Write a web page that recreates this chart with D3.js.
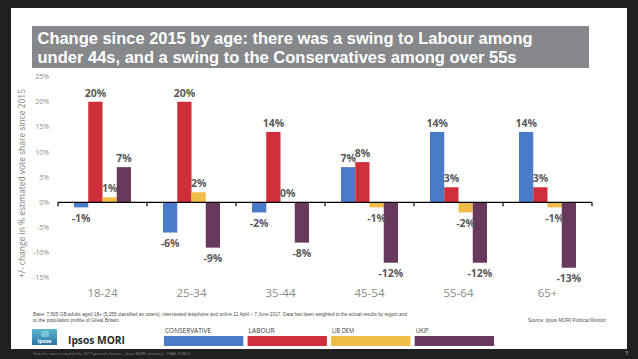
<!DOCTYPE html>
<html><head><meta charset="utf-8">
<script src="https://cdn.jsdelivr.net/npm/d3@7"></script>
<style>html,body{margin:0;padding:0;background:#202020;}svg{display:block;}</style>
</head><body>
<svg id="c" width="638" height="359"></svg>
<script>
const categories = ["18-24","25-34","35-44","45-54","55-64","65+"];
const series = ["CONSERVATIVE","LABOUR","LIB DEM","UKIP"];
const conservative = [-1,-6,-2,7,14,14];
const labour = [20,20,14,8,3,3];
const libdem = [1,2,0,-1,-2,-1];
const ukip = [7,-9,-8,-12,-12,-13];
const yTicks = [25,20,15,10,5,0,-5,-10,-15];
const colors = ["#4a7bc8","#cf2f3b","#f0bc48","#67395d"];
const values = [conservative, labour, libdem, ukip];

const svg = d3.select("#c");
const F = "'Open Sans', 'Liberation Sans', sans-serif";
const FT = "'Liberation Sans', Arial, sans-serif";

// slide background
svg.append("rect").attr("x",0).attr("y",0).attr("width",638).attr("height",359).attr("fill","#202020");
svg.append("rect").attr("x",11).attr("y",8).attr("width",616).attr("height",341).attr("fill","#ffffff");

// title box
svg.append("rect").attr("x",32).attr("y",26).attr("width",557).attr("height",42).attr("fill","#86888b");
svg.append("text").attr("x",37.5).attr("y",44.2).attr("font-family",FT).attr("font-weight",700)
  .attr("font-size",16).attr("fill","#ffffff")
  .attr("textLength",495).attr("lengthAdjust","spacingAndGlyphs")
  .text("Change since 2015 by age: there was a swing to Labour among");
svg.append("text").attr("x",37.5).attr("y",62.8).attr("font-family",FT).attr("font-weight",700)
  .attr("font-size",16).attr("fill","#ffffff")
  .attr("textLength",479).attr("lengthAdjust","spacingAndGlyphs")
  .text("under 44s, and a swing to the Conservatives among over 55s");

// scales
const y = d3.scaleLinear().domain([-15,25]).range([277.8,76.6]);
const x0 = d3.scaleBand().domain(categories).range([58,592]).padding(0);
const x1 = d3.scaleBand().domain(series).range([16,73]).padding(0);

// y tick labels
svg.append("g").selectAll("text").data(yTicks).join("text")
  .attr("x",49).attr("y",d=>y(d)+2.5).attr("text-anchor","end")
  .attr("font-family",F).attr("font-size",7).attr("fill","#8c8c8c")
  .text(d=>d+"%");

// y axis title
svg.append("text").attr("transform","translate(24.5,183.5) rotate(-90)")
  .attr("text-anchor","middle").attr("font-family",F).attr("font-size",8.6).attr("fill","#808080")
  .attr("textLength",189).attr("lengthAdjust","spacingAndGlyphs")
  .text("+/- change in % estimated vote share since 2015");

// bars
const flat = [];
categories.forEach((c,i)=>series.forEach((s,j)=>flat.push({c,s,j,v:values[j][i]})));
svg.append("g").selectAll("rect").data(flat).join("rect")
  .attr("x",d=>x0(d.c)+x1(d.s)).attr("width",x1.bandwidth())
  .attr("y",d=>Math.min(y(d.v),y(0))).attr("height",d=>Math.abs(y(d.v)-y(0)))
  .attr("fill",d=>colors[d.j]);

// zero axis
const ax = svg.append("g").attr("transform",`translate(0,${y(0)})`);
ax.append("line").attr("x1",58).attr("x2",592).attr("stroke","#000").attr("stroke-width",1.2);
const bounds = categories.map(c=>x0(c)).concat([x0.range()[1]]);
ax.selectAll("line.t").data(bounds).join("line").attr("class","t")
  .attr("x1",d=>d).attr("x2",d=>d).attr("y1",0).attr("y2",4).attr("stroke","#000").attr("stroke-width",1.2);

// value labels
svg.append("g").selectAll("text").data(flat).join("text")
  .attr("x",d=>x0(d.c)+x1(d.s)+x1.bandwidth()/2)
  .attr("y",d=>d.v>=0 ? y(d.v)-5 : y(d.v)+14.5)
  .attr("text-anchor","middle").attr("font-family",F).attr("font-weight",700)
  .attr("font-size",10.5).attr("fill","#595959")
  .text(d=>d.v+"%");

// category labels
svg.append("g").selectAll("text").data(categories).join("text")
  .attr("x",d=>x0(d)+x0.bandwidth()/2).attr("y",297)
  .attr("text-anchor","middle").attr("font-family",F).attr("font-size",11.5).attr("fill","#8a8a8a")
  .text(d=>d);

// footnotes
svg.append("text").attr("x",33).attr("y",315.8).attr("font-family",FT).attr("font-size",5).attr("fill","#4d4d4d")
  .attr("textLength",374).attr("lengthAdjust","spacingAndGlyphs")
  .text("Base: 7,505 GB adults aged 18+ (5,255 classified as voters), interviewed telephone and online 21 April – 7 June 2017. Data has been weighted to the actual results by region and");
svg.append("text").attr("x",33).attr("y",322).attr("font-family",FT).attr("font-size",5).attr("fill","#4d4d4d")
  .attr("textLength",87).attr("lengthAdjust","spacingAndGlyphs")
  .text("to the population profile of Great Britain.");
svg.append("text").attr("x",606).attr("y",322).attr("text-anchor","end").attr("font-family",FT).attr("font-size",5).attr("fill","#4d4d4d")
  .attr("textLength",78).attr("lengthAdjust","spacingAndGlyphs")
  .text("Source: Ipsos MORI Political Monitor");

// legend
const lg = d3.scaleBand().domain(series).range([164,494]).paddingInner(0.05).paddingOuter(0);
const legendW = {"CONSERVATIVE":46,"LABOUR":26,"LIB DEM":22,"UKIP":13};
svg.append("g").selectAll("rect").data(series).join("rect")
  .attr("x",d=>lg(d)).attr("y",336).attr("width",lg.bandwidth()).attr("height",10)
  .attr("fill",(d,i)=>colors[i]);
svg.append("g").selectAll("text").data(series).join("text")
  .attr("x",d=>lg(d)+1).attr("y",333).attr("font-family",F).attr("font-size",6.8).attr("fill","#404040")
  .attr("textLength",d=>legendW[d]).attr("lengthAdjust","spacingAndGlyphs")
  .text(d=>d);

// logo
const defs = svg.append("defs");
const gr = defs.append("linearGradient").attr("id","lg1").attr("x1",0).attr("y1",0).attr("x2",0).attr("y2",1);
gr.append("stop").attr("offset","0%").attr("stop-color","#5fb7cf");
gr.append("stop").attr("offset","100%").attr("stop-color","#2d74a9");
svg.append("rect").attr("x",32).attr("y",329).attr("width",25).attr("height",16).attr("fill","url(#lg1)");
svg.append("rect").attr("x",41).attr("y",331).attr("width",8).attr("height",6).attr("rx",2).attr("fill","#8fd3e0").attr("opacity",0.7);
svg.append("text").attr("x",44.5).attr("y",343).attr("text-anchor","middle").attr("font-family",F).attr("font-weight",700)
  .attr("font-size",5.5).attr("fill","#ffffff").text("Ipsos");
svg.append("text").attr("x",68).attr("y",344).attr("font-family",F).attr("font-weight",700)
  .attr("font-size",10.5).attr("fill","#2b2b2b")
  .attr("textLength",57).attr("lengthAdjust","spacingAndGlyphs").text("Ipsos MORI");

// bottom strip text
svg.append("text").attr("x",33).attr("y",354.5).attr("font-family",F).attr("font-size",4).attr("fill","#8a8a8a")
  .attr("textLength",158).attr("lengthAdjust","spacingAndGlyphs")
  .text("How the voters voted in the 2017 general election – Ipsos MORI estimates · FINAL PUBLIC");
svg.append("text").attr("x",627).attr("y",355).attr("text-anchor","middle").attr("font-family",F).attr("font-size",5).attr("fill","#aaaaaa").text("5");
</script>
</body></html>
